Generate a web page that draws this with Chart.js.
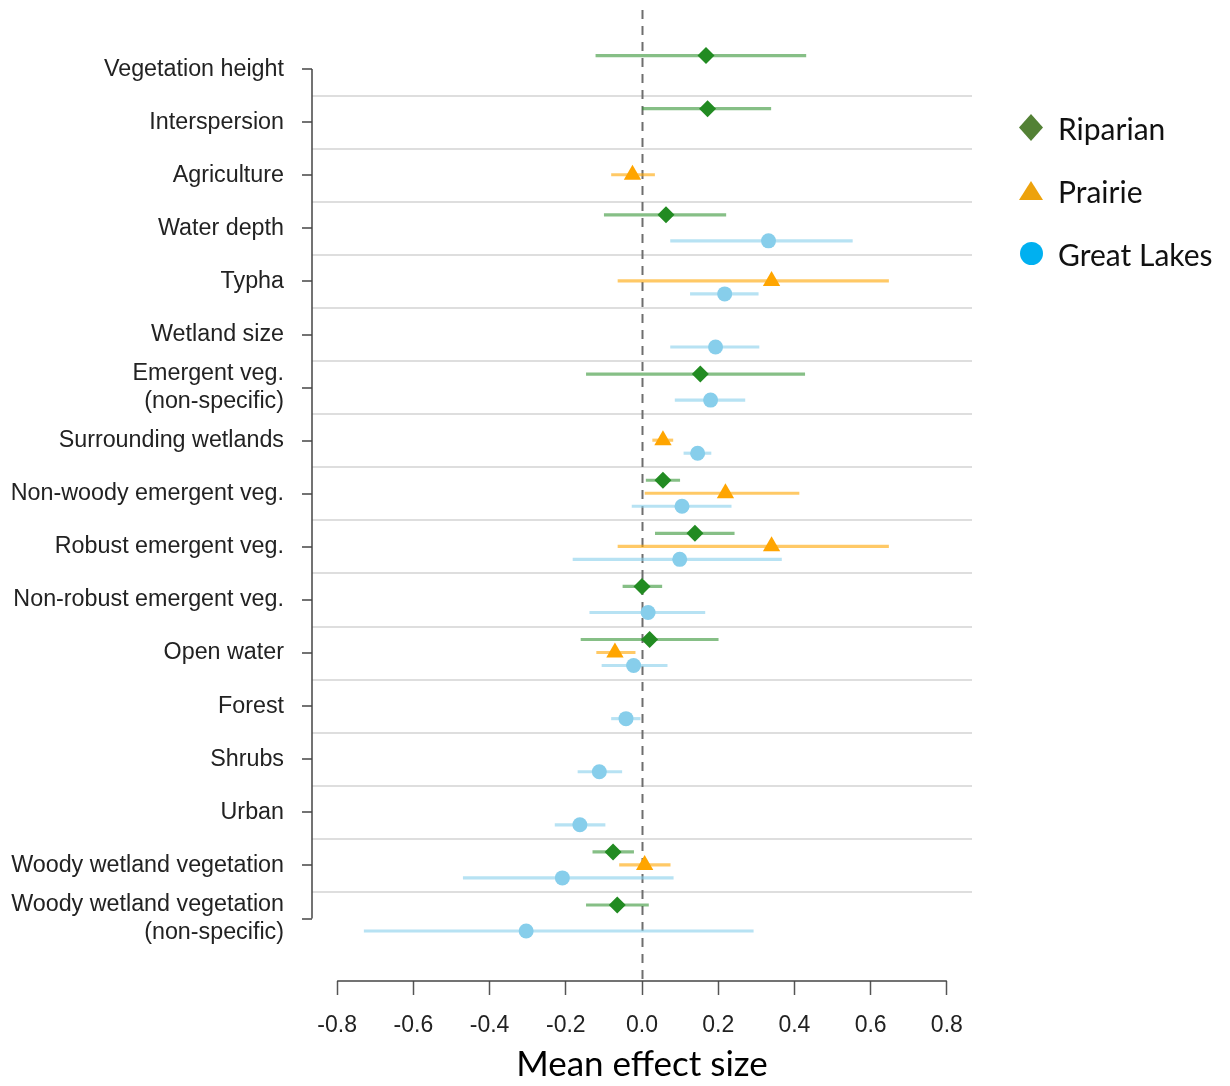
<!DOCTYPE html>
<html>
<head>
<meta charset="utf-8">
<script src="https://cdn.jsdelivr.net/npm/chart.js@4.4.0/dist/chart.umd.min.js"></script>
<style>
  body { margin: 0; background: #fff; }
  .wrap { position: relative; width: 1230px; height: 1086px; }
  .legend {
    position: absolute; left: 1019px; top: 96px;
    font-family: Lato, "Open Sans", sans-serif; font-size: 30px; color: #111;
  }
  .legend .item { display: flex; align-items: center; height: 63px; }
  .legend .box { width: 24px; display: flex; justify-content: center; margin-right: 15px; }
  .mk-diamond { width: 24px; height: 27px; background: #538135; clip-path: polygon(50% 0, 100% 50%, 50% 100%, 0 50%); }
  .mk-triangle { width: 25px; height: 19px; background: #eda20c; clip-path: polygon(50% 0, 100% 100%, 0 100%); }
  .mk-circle { width: 23px; height: 23px; background: #00b0f0; border-radius: 50%; }
</style>
</head>
<body>
<div class="wrap">
  <canvas id="forest" width="1230" height="1086"></canvas>
  <div class="legend">
    <div class="item"><span class="box"><span class="mk-diamond"></span></span><span>Riparian</span></div>
    <div class="item"><span class="box"><span class="mk-triangle"></span></span><span>Prairie</span></div>
    <div class="item"><span class="box"><span class="mk-circle"></span></span><span>Great Lakes</span></div>
  </div>
</div>
<script>
const categories = [
  "Vegetation height",
  "Interspersion",
  "Agriculture",
  "Water depth",
  "Typha",
  "Wetland size",
  ["Emergent veg.", "(non-specific)"],
  "Surrounding wetlands",
  "Non-woody emergent veg.",
  "Robust emergent veg.",
  "Non-robust emergent veg.",
  "Open water",
  "Forest",
  "Shrubs",
  "Urban",
  "Woody wetland vegetation",
  ["Woody wetland vegetation", "(non-specific)"]
];

const xTicks = [-0.8, -0.6, -0.4, -0.2, 0.0, 0.2, 0.4, 0.6, 0.8];

// mean effect and interval ends, one entry per category (null = not estimated)
const riparianMean = [0.168, 0.172, null, 0.063, null, null, 0.153, null, 0.055, 0.139, 0.000, 0.020, null, null, null, -0.076, -0.065];
const riparianLow  = [-0.121, 0.000, null, -0.099, null, null, -0.146, null, 0.011, 0.035, -0.050, -0.160, null, null, null, -0.129, -0.146];
const riparianHigh = [0.430, 0.338, null, 0.220, null, null, 0.427, null, 0.099, 0.242, 0.052, 0.200, null, null, null, -0.022, 0.017];

const prairieMean = [null, null, -0.025, null, 0.340, null, null, 0.055, 0.219, 0.340, null, -0.071, null, null, null, 0.007, null];
const prairieLow  = [null, null, -0.080, null, -0.063, null, null, 0.028, 0.008, -0.063, null, -0.119, null, null, null, -0.059, null];
const prairieHigh = [null, null, 0.033, null, 0.647, null, null, 0.081, 0.412, 0.647, null, -0.018, null, null, null, 0.074, null];

const greatLakesMean = [null, null, null, 0.332, 0.217, 0.193, 0.180, 0.146, 0.105, 0.099, 0.016, -0.022, -0.042, -0.112, -0.163, -0.209, -0.304];
const greatLakesLow  = [null, null, null, 0.075, 0.127, 0.075, 0.087, 0.110, -0.026, -0.181, -0.137, -0.105, -0.080, -0.168, -0.228, -0.469, -0.729];
const greatLakesHigh = [null, null, null, 0.552, 0.305, 0.307, 0.270, 0.181, 0.234, 0.366, 0.165, 0.066, -0.005, -0.053, -0.097, 0.082, 0.292];

// vertical nudge of each series inside its row
const rowShift = { riparian: -0.255, prairie: -0.01, greatLakes: 0.235 };

const toPoints = (mean, shift) =>
  mean.map((m, i) => (m === null ? null : { x: m, y: i + shift })).filter(Boolean);
const toIntervals = (lo, hi, shift) =>
  lo.map((l, i) => (l === null ? null : { x: [l, hi[i]], y: i + shift })).filter(Boolean);

// ticks at each row plus the boundaries between rows (used for separators)
const yTickValues = [];
for (let i = 0; i < categories.length; i++) {
  yTickValues.push(i);
  if (i < categories.length - 1) yTickValues.push(i + 0.5);
}
const isRow = (v) => Number.isInteger(v);

const intervalBar = (data, color) => ({
  type: "bar",
  indexAxis: "y",
  data,
  backgroundColor: color,
  borderWidth: 0,
  barThickness: 2.5,
  grouped: false,
  order: 2
});

const markers = (data, color, style, radius) => ({
  type: "scatter",
  data,
  backgroundColor: color,
  borderWidth: 0,
  pointStyle: style,
  pointRadius: radius,
  order: 1
});

const axisLines = {
  id: "axisLines",
  beforeDatasetsDraw(chart) {
    const { ctx, chartArea, scales } = chart;
    const x = scales.x, y = scales.y;
    ctx.save();
    // zero reference line
    ctx.strokeStyle = "#6e6e6e";
    ctx.lineWidth = 2;
    ctx.setLineDash([9, 7]);
    const x0 = Math.round(x.getPixelForValue(0)) + 0.5;
    ctx.beginPath();
    ctx.moveTo(x0, chartArea.top);
    ctx.lineTo(x0, chartArea.bottom);
    ctx.stroke();
    ctx.setLineDash([]);
    // R-style spines that stop at the first/last tick
    ctx.strokeStyle = "#444";
    ctx.lineWidth = 1.5;
    ctx.beginPath();
    ctx.moveTo(chartArea.left, y.getPixelForValue(0));
    ctx.lineTo(chartArea.left, y.getPixelForValue(categories.length - 1));
    ctx.stroke();
    ctx.beginPath();
    ctx.moveTo(x.getPixelForValue(xTicks[0]), chartArea.bottom);
    ctx.lineTo(x.getPixelForValue(xTicks[xTicks.length - 1]), chartArea.bottom);
    ctx.stroke();
    ctx.restore();
  }
};

new Chart(document.getElementById("forest"), {
  type: "scatter",
  data: {
    datasets: [
      markers(toPoints(riparianMean, rowShift.riparian), "#228b22", "rectRot", 8.5),
      markers(toPoints(prairieMean, rowShift.prairie), "#ffa500", "triangle", 10),
      markers(toPoints(greatLakesMean, rowShift.greatLakes), "#87ceeb", "circle", 7.5),
      intervalBar(toIntervals(riparianLow, riparianHigh, rowShift.riparian), "rgba(34,139,34,0.55)"),
      intervalBar(toIntervals(prairieLow, prairieHigh, rowShift.prairie), "rgba(255,165,0,0.6)"),
      intervalBar(toIntervals(greatLakesLow, greatLakesHigh, rowShift.greatLakes), "rgba(135,206,235,0.6)")
    ]
  },
  options: {
    responsive: false,
    animation: false,
    layout: { padding: { left: 0, right: 258, top: 6, bottom: 0 } },
    plugins: { legend: { display: false }, tooltip: { enabled: false } },
    scales: {
      x: {
        type: "linear",
        min: -0.866,
        max: 0.866,
        offset: false,
        afterBuildTicks: (s) => { s.ticks = xTicks.map((v) => ({ value: v })); },
        afterFit: (s) => { s.height = 105; s.paddingLeft = 0; s.paddingRight = 0; },
        border: { display: false },
        grid: { drawOnChartArea: false, tickLength: 14, tickColor: "#555", tickWidth: 1.5 },
        ticks: {
          padding: 17,
          color: "#222",
          font: { family: "'Liberation Sans', Arial, sans-serif", size: 23 },
          callback: (v) => Number(v).toFixed(1)
        },
        title: {
          display: true,
          text: "Mean effect size",
          color: "#000",
          font: { family: "Lato, 'Open Sans', sans-serif", size: 35 },
          padding: { top: 0, bottom: 0 }
        }
      },
      y: {
        type: "linear",
        reverse: true,
        min: -1.113,
        max: 17.177,
        offset: false,
        afterBuildTicks: (s) => { s.ticks = yTickValues.map((v) => ({ value: v })); },
        afterFit: (s) => { s.width = 312; s.paddingTop = 0; s.paddingBottom = 0; },
        border: { display: false },
        grid: {
          offset: false,
          color: (c) => (isRow(c.tick.value) ? "rgba(0,0,0,0)" : "#dedede"),
          lineWidth: 2,
          tickLength: 10,
          tickWidth: 1.5,
          tickColor: (c) => (isRow(c.tick.value) ? "#444" : "rgba(0,0,0,0)")
        },
        ticks: {
          autoSkip: false,
          padding: 18,
          color: "#222",
          font: { family: "'Liberation Sans', Arial, sans-serif", size: 23.3, lineHeight: 1.18 },
          callback: (v) => (isRow(v) ? categories[v] : "")
        }
      }
    }
  },
  plugins: [axisLines]
});
</script>
</body>
</html>
